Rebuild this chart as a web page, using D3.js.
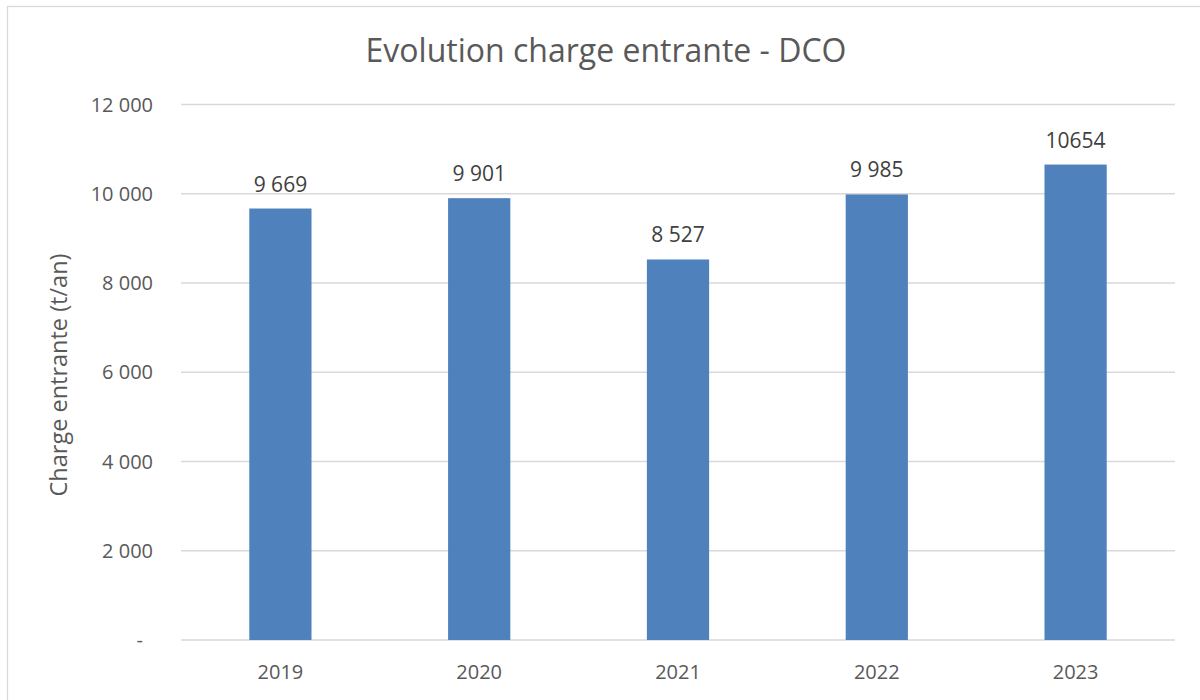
<!DOCTYPE html>
<html>
<head>
<meta charset="utf-8">
<script src="https://cdn.jsdelivr.net/npm/d3@7"></script>
<style>
  body { margin: 0; background: #fff; }
  text { font-family: "Open Sans", "Noto Sans", sans-serif; }
</style>
</head>
<body>
<div id="chart"></div>
<script>
const width = 1200, height = 700;

const years = ["2019", "2020", "2021", "2022", "2023"];
const values = [9669, 9901, 8527, 9985, 10654];
const valueLabels = ["9 669", "9 901", "8 527", "9 985", "10654"];
const yTicks = [0, 2000, 4000, 6000, 8000, 10000, 12000];
const yTickLabels = ["-", "2 000", "4 000", "6 000", "8 000", "10 000", "12 000"];

const margin = {left: 181, right: 25, top: 104.5, bottom: 60};

const svg = d3.select("#chart").append("svg")
    .attr("width", width)
    .attr("height", height);

// chart border (only top/left visible in the crop)
svg.append("rect")
    .attr("x", 7.5).attr("y", 6.5)
    .attr("width", 1300).attr("height", 800)
    .attr("fill", "none")
    .attr("stroke", "#d9d9d9")
    .attr("stroke-width", 1.3);

const x = d3.scaleBand()
    .domain(years)
    .range([margin.left, width - margin.right])
    .paddingInner(0.687)
    .paddingOuter(0.3435);

const y = d3.scaleLinear()
    .domain([0, 12000])
    .range([640, margin.top]);

// gridlines
svg.append("g")
    .selectAll("line")
    .data(yTicks)
    .join("line")
    .attr("x1", margin.left)
    .attr("x2", width - margin.right)
    .attr("y1", d => y(d))
    .attr("y2", d => y(d))
    .attr("stroke", "#d9d9d9")
    .attr("stroke-width", 1.3);

// y tick labels (the "-" for zero sits a bit left, accounting style)
svg.append("g")
    .selectAll("text")
    .data(yTicks)
    .join("text")
    .attr("x", d => d === 0 ? 143 : 153)
    .attr("y", d => y(d))
    .attr("dy", "0.35em")
    .attr("text-anchor", "end")
    .attr("font-size", 20)
    .attr("fill", "#595959")
    .text((d, i) => yTickLabels[i]);

// bars
svg.append("g")
    .selectAll("rect")
    .data(values)
    .join("rect")
    .attr("x", (d, i) => x(years[i]))
    .attr("width", x.bandwidth())
    .attr("y", d => y(d))
    .attr("height", d => y(0) - y(d))
    .attr("fill", "#4f81bd");

// data labels
svg.append("g")
    .selectAll("text")
    .data(values)
    .join("text")
    .attr("x", (d, i) => x(years[i]) + x.bandwidth() / 2)
    .attr("y", d => y(d) - 17)
    .attr("text-anchor", "middle")
    .attr("font-size", 21)
    .attr("fill", "#404040")
    .text((d, i) => valueLabels[i]);

// x labels
svg.append("g")
    .selectAll("text")
    .data(years)
    .join("text")
    .attr("x", d => x(d) + x.bandwidth() / 2)
    .attr("y", 679)
    .attr("text-anchor", "middle")
    .attr("font-size", 20)
    .attr("fill", "#595959")
    .text(d => d);

// title
svg.append("text")
    .attr("x", 606)
    .attr("y", 62)
    .attr("text-anchor", "middle")
    .attr("font-size", 32)
    .attr("fill", "#595959")
    .text("Evolution charge entrante - DCO");

// y axis title
svg.append("text")
    .attr("transform", "translate(67,375) rotate(-90)")
    .attr("text-anchor", "middle")
    .attr("font-size", 23.5)
    .attr("fill", "#595959")
    .text("Charge entrante (t/an)");
</script>
</body>
</html>
